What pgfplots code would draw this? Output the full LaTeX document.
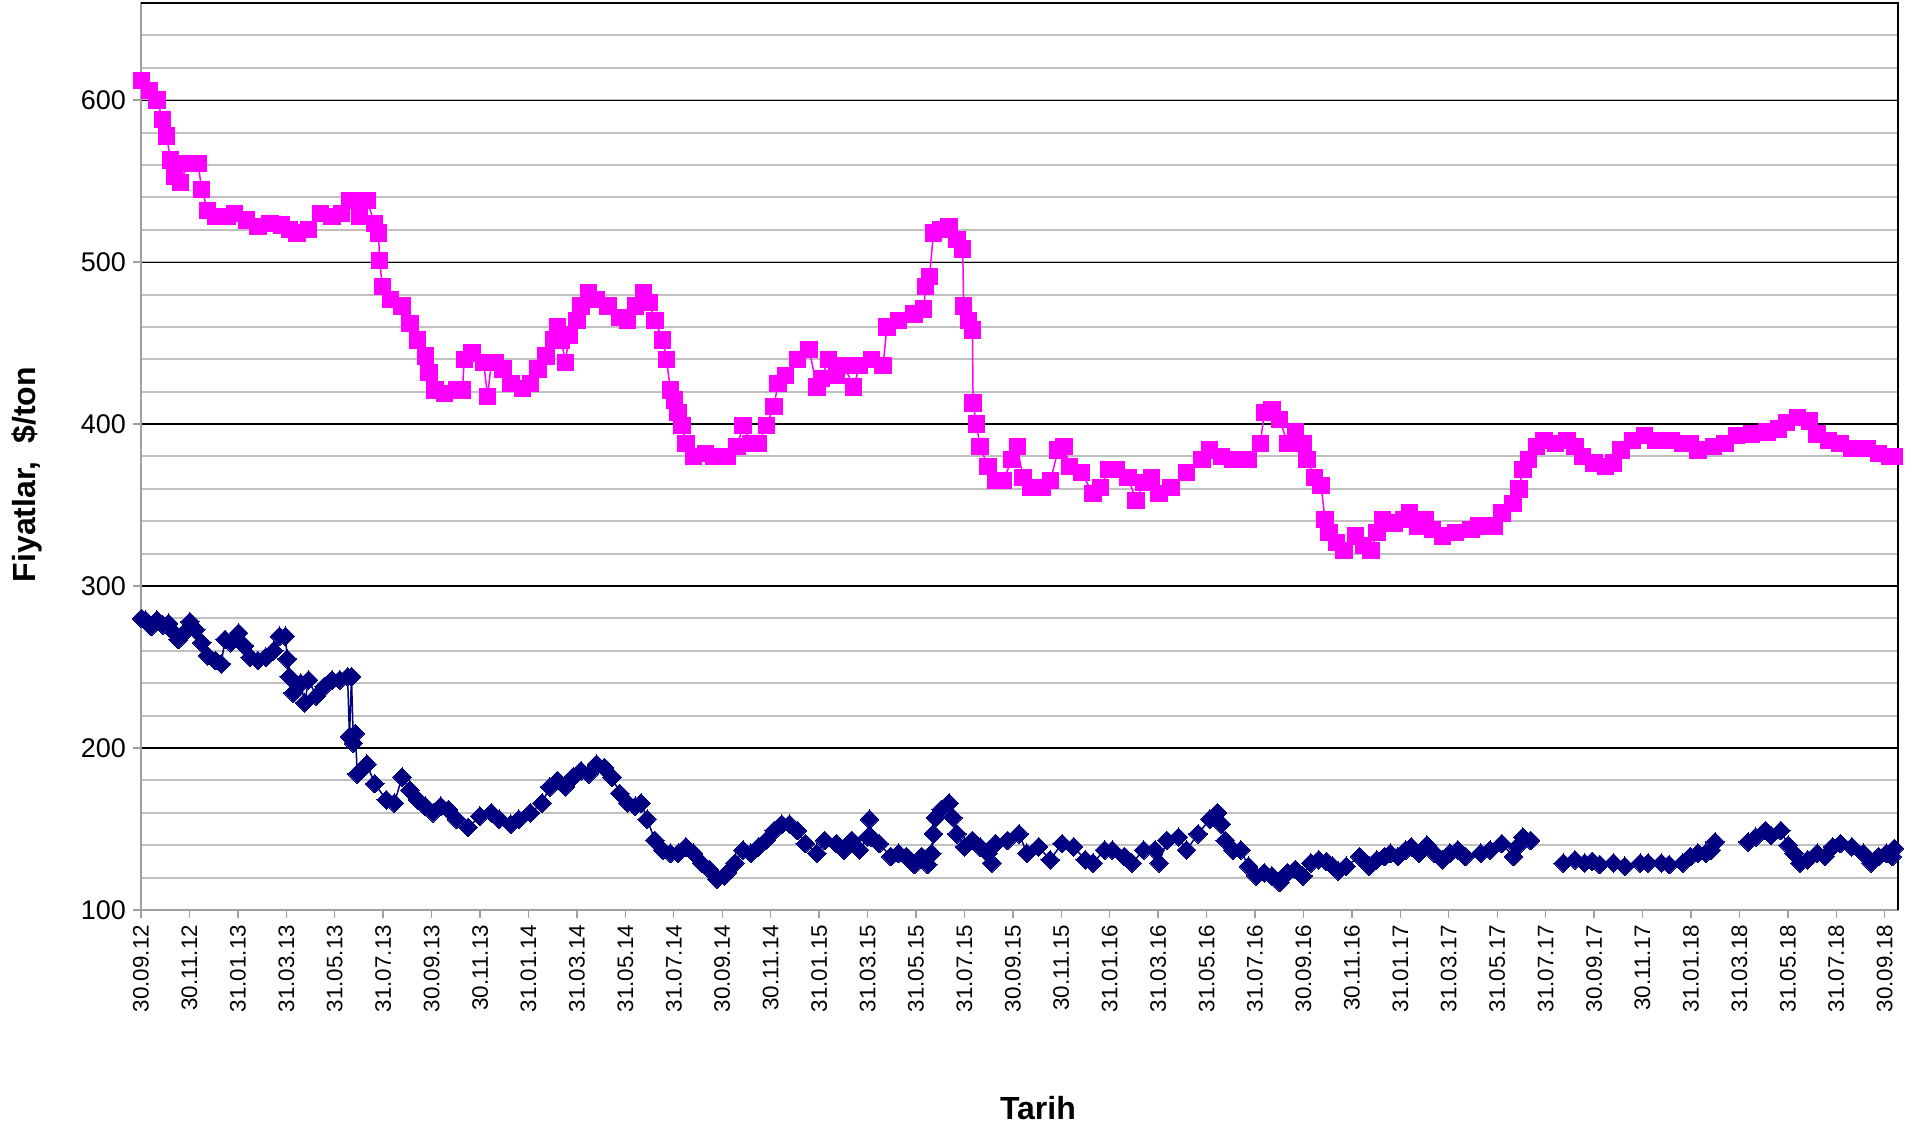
\documentclass[border=0pt]{standalone}
\usepackage{pgfplots}
\pgfplotsset{compat=1.18}
\usepackage{fontspec}
\setmainfont{Liberation Sans}
\definecolor{mag}{HTML}{FF00FF}
\definecolor{nav}{HTML}{000080}
\definecolor{mgrid}{HTML}{C0C0C0}
\definecolor{axgray}{HTML}{A0A0A0}
\begin{document}
\begin{tikzpicture}
\path[use as bounding box] (-70.5pt,-108.5pt) rectangle (886pt,455pt);
\begin{axis}[
 scale only axis, width=878.5pt, height=453.5pt,
 at={(0,0)}, anchor=south west,
 xmin=0, xmax=72.55, ymin=100, ymax=660,
 clip=false,
 tick pos=left,
 xtick={0,2,...,72},
 xticklabels={30.09.12,30.11.12,31.01.13,31.03.13,31.05.13,31.07.13,30.09.13,30.11.13,31.01.14,31.03.14,31.05.14,31.07.14,30.09.14,30.11.14,31.01.15,31.03.15,31.05.15,31.07.15,30.09.15,30.11.15,31.01.16,31.03.16,31.05.16,31.07.16,30.09.16,30.11.16,31.01.17,31.03.17,31.05.17,31.07.17,30.09.17,30.11.17,31.01.18,31.03.18,31.05.18,31.07.18,30.09.18},
 ytick={100,200,...,600},
 minor ytick={120,140,...,660},
 ymajorgrids, yminorgrids,
 major grid style={black, line width=0.6pt},
 minor grid style={mgrid, line width=1pt},
 tick align=outside,
 major tick length=4pt,
 minor tick length=0pt,
 tick style={axgray, line width=0.7pt},
 axis line style={axgray, line width=0.8pt},
 /pgf/number format/assume math mode=true,
 x tick label style={rotate=90, anchor=east, font=\fontsize{11.2}{12}\selectfont},
 y tick label style={font=\fontsize{13.5}{15}\selectfont},
 xlabel={Tarih},
 xlabel style={font=\bfseries\fontsize{16}{18}\selectfont, at={(axis description cs:0.5105,-0.2183)}, anchor=center},
 ylabel={Fiyatlar,\ \ \$/ton},
 ylabel style={font=\bfseries\fontsize{16}{18}\selectfont, at={(axis description cs:-0.0649,0.48)}, anchor=center},
 unbounded coords=jump,
]
\addplot[color=mag, line width=0.75pt, mark=square*, mark size=4.1pt, mark options={solid, fill=mag, draw=mag, line width=0pt}] coordinates {
(0.02,612) (0.34,606) (0.66,600) (0.90,588) (1.06,578) (1.22,563) (1.38,553) (1.62,549) (1.94,561) (2.35,561)
(2.51,545) (2.75,532) (3.07,528) (3.55,528) (3.87,530) (4.35,526) (4.83,522) (5.32,524) (5.80,523) (6.12,520)
(6.44,518) (6.92,520) (7.40,530) (7.89,528) (8.29,530) (8.61,538) (9.01,528) (9.33,538) (9.65,524) (9.81,518)
(9.85,501) (9.97,485) (10.30,477) (10.78,473) (11.10,462) (11.42,452) (11.74,442) (11.90,432) (12.14,421) (12.54,419)
(13.03,421) (13.27,421) (13.35,440) (13.67,444) (14.15,438) (14.31,417) (14.47,438) (14.63,438) (14.95,434) (15.27,425)
(15.76,422) (16.08,425) (16.40,434) (16.72,442) (17.04,452) (17.20,460) (17.36,452) (17.52,438) (17.68,455) (18.00,464)
(18.17,473) (18.49,481) (18.81,477) (19.29,473) (19.77,466) (20.09,464) (20.41,473) (20.74,481) (20.98,475) (21.22,464)
(21.54,452) (21.70,440) (21.86,421) (22.02,415) (22.18,407) (22.34,399) (22.50,388) (22.82,380) (23.31,382) (23.63,380)
(23.95,380) (24.21,380) (24.61,386) (24.86,399) (25.18,388) (25.50,388) (25.82,399) (26.14,411) (26.30,425) (26.62,430)
(27.10,440) (27.59,446) (27.91,423) (28.10,428) (28.39,440) (28.71,430) (29.03,436) (29.43,423) (29.67,436) (30.16,440)
(30.64,436) (30.80,460) (31.28,464) (31.92,468) (32.32,471) (32.40,485) (32.56,491) (32.72,518) (33.04,520) (33.36,522)
(33.69,514) (33.93,508) (33.97,473) (34.17,464) (34.33,458) (34.36,413) (34.49,400) (34.65,386) (34.97,374) (35.29,365)
(35.62,365) (35.94,378) (36.18,386) (36.42,367) (36.74,361) (37.22,361) (37.55,365) (37.87,384) (38.11,386) (38.35,374)
(38.83,370) (39.31,357) (39.63,361) (39.96,372) (40.28,372) (40.76,367) (41.08,353) (41.40,364) (41.72,367) (42.04,357)
(42.53,361) (43.17,370) (43.81,378) (44.13,384) (44.61,380) (45.09,378) (45.74,378) (46.22,388) (46.38,407) (46.70,409)
(47.02,403) (47.34,388) (47.66,395) (47.98,388) (48.14,378) (48.46,367) (48.73,362) (48.89,341) (49.05,333) (49.37,327)
(49.68,322) (50.16,331) (50.48,325) (50.79,322) (51.03,333) (51.27,341) (51.75,339) (52.14,341) (52.38,345) (52.70,337)
(53.02,341) (53.33,335) (53.73,331) (54.29,333) (54.92,335) (55.24,337) (55.87,337) (56.19,345) (56.66,351) (56.90,360)
(57.06,372) (57.30,378) (57.62,386) (57.94,390) (58.41,388) (58.89,390) (59.21,386) (59.53,380) (60.00,376) (60.48,374)
(60.80,376) (61.11,384) (61.59,390) (62.07,393) (62.54,390) (63.18,390) (63.66,388) (63.97,388) (64.29,384) (64.92,386)
(65.40,388) (65.88,393) (66.51,394) (67.14,395) (67.62,397) (67.94,401) (68.41,404) (68.89,402) (69.21,394) (69.68,390)
(70.16,388) (70.64,385) (71.27,385) (71.74,382) (72.22,380) (72.40,380)
};
\addplot[color=nav, line width=0.75pt, mark=square*, mark size=3.3pt, mark options={solid, rotate=45, fill=nav, draw=nav, line width=0pt}] coordinates {
(0.02,280) (0.18,279) (0.42,275) (0.66,279) (0.90,276) (1.14,277) (1.38,271) (1.54,267) (1.78,271) (2.02,278)
(2.26,273) (2.51,265) (2.75,257) (3.07,254) (3.31,252) (3.47,267) (3.71,265) (4.03,271) (4.27,263) (4.51,256)
(4.83,254) (5.16,256) (5.48,260) (5.72,269) (5.96,269) (6.04,255) (6.12,244) (6.28,234) (6.60,240) (6.76,228)
(6.92,242) (7.24,232) (7.57,238) (7.89,242) (8.21,242) (8.53,244) (8.61,207) (8.69,244) (8.77,203) (8.85,209)
(8.93,184) (9.33,190) (9.65,178) (10.13,168) (10.46,166) (10.78,182) (11.10,174) (11.42,168) (11.74,164) (12.06,160)
(12.38,164) (12.70,162) (13.03,156) (13.51,151) (13.99,158) (14.47,160) (14.79,156) (15.27,153) (15.60,156) (16.08,160)
(16.56,166) (16.88,176) (17.20,180) (17.52,176) (17.84,182) (18.17,186) (18.49,184) (18.81,190) (19.13,188) (19.45,182)
(19.77,172) (20.09,166) (20.41,164) (20.65,166) (20.90,156) (21.22,143) (21.54,137) (21.86,135) (22.18,135) (22.50,139)
(22.82,135) (23.14,129) (23.47,125) (23.79,119) (24.10,121) (24.21,123) (24.53,129) (24.86,137) (25.18,135) (25.50,139)
(25.82,143) (26.14,149) (26.46,153) (26.78,153) (27.10,149) (27.43,141) (27.91,135) (28.23,143) (28.71,141) (29.03,137)
(29.35,143) (29.67,137) (30.00,145) (30.08,156) (30.16,145) (30.48,141) (30.96,133) (31.28,135) (31.60,133) (31.92,128)
(32.24,133) (32.49,128) (32.65,135) (32.72,147) (32.81,157) (33.04,162) (33.37,166) (33.53,157) (33.69,147) (34.01,139)
(34.33,143) (34.65,139) (34.97,135) (35.13,129) (35.29,141) (35.78,143) (36.26,147) (36.58,135) (37.06,139) (37.54,131)
(38.03,141) (38.51,139) (38.99,131) (39.31,129) (39.79,137) (40.11,137) (40.60,133) (40.92,129) (41.40,137) (41.88,137)
(42.04,129) (42.36,143) (42.84,145) (43.17,137) (43.65,147) (44.13,156) (44.45,160) (44.61,153) (44.77,143) (45.09,137)
(45.41,137) (45.73,127) (46.05,121) (46.38,123) (46.70,121) (47.02,117) (47.34,123) (47.66,125) (47.98,121) (48.30,129)
(48.63,131) (48.95,130) (49.21,127) (49.44,124) (49.76,127) (50.32,133) (50.71,127) (51.03,131) (51.35,133) (51.59,135)
(51.90,133) (52.22,137) (52.46,139) (52.78,135) (53.10,140) (53.41,135) (53.73,131) (54.05,135) (54.37,137) (54.68,133)
(55.00,nan)
(55.32,135) (55.71,137) (56.19,141) (56.67,133) (56.82,139) (57.06,145) (57.38,143)
(58.00,nan)
(58.73,129) (59.21,131) (59.61,129) (59.92,130) (60.24,128)
(60.50,nan)
(60.80,129) (61.27,127)
(61.60,nan)
(61.91,129) (62.23,129)
(62.50,nan)
(62.78,129) (63.10,128)
(63.40,nan)
(63.66,129) (63.97,133) (64.29,135) (64.61,135) (64.84,137) (65.00,142)
(65.70,nan)
(66.36,142) (66.67,145) (67.07,149) (67.31,146) (67.71,149) (68.02,140) (68.26,135) (68.50,129) (68.82,131) (69.21,135)
(69.53,133) (69.85,139) (70.17,141) (70.64,139) (71.12,135) (71.44,129) (71.75,133) (72.07,135) (72.31,133) (72.40,138)
};
\draw[black, line width=0.8pt] (rel axis cs:0,1) -- (rel axis cs:1,1) -- (rel axis cs:1,0);
\end{axis}
\end{tikzpicture}
\end{document}
